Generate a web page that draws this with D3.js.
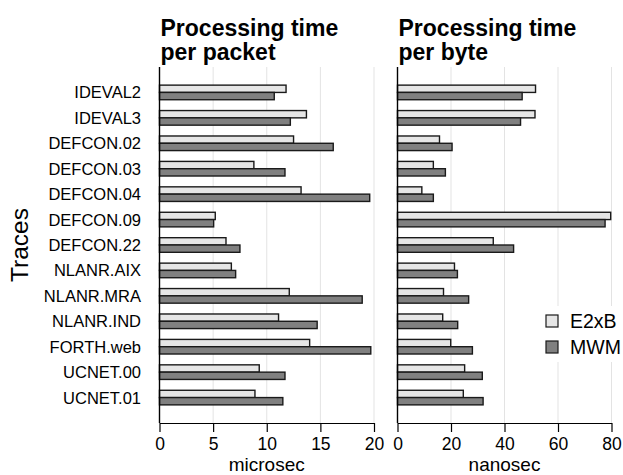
<!DOCTYPE html>
<html>
<head>
<meta charset="utf-8">
<script src="https://cdn.jsdelivr.net/npm/d3@7"></script>
<style>
  body { margin: 0; background: #fff; }
  svg { display: block; font-family: "Liberation Sans", Arial, sans-serif; }
</style>
</head>
<body>
<svg id="chart" width="623" height="475"></svg>
<script>
// traces, top to bottom
const traces = ["IDEVAL2", "IDEVAL3", "DEFCON.02", "DEFCON.03", "DEFCON.04", "DEFCON.09",
  "DEFCON.22", "NLANR.AIX", "NLANR.MRA", "NLANR.IND", "FORTH.web", "UCNET.00", "UCNET.01"];

// processing time per packet (microsec)
const packetE2xB = [11.8, 13.7, 12.5, 8.8, 13.2, 5.2, 6.2, 6.7, 12.1, 11.1, 14.0, 9.3, 8.9];
const packetMWM  = [10.7, 12.2, 16.2, 11.7, 19.6, 5.05, 7.5, 7.1, 18.9, 14.7, 19.7, 11.7, 11.5];

// processing time per byte (nanosec)
const byteE2xB = [51.6, 51.4, 15.7, 13.4, 9.1, 79.7, 35.8, 21.3, 17.2, 16.9, 19.9, 25.1, 24.6];
const byteMWM  = [46.6, 46.0, 20.4, 17.9, 13.4, 77.6, 43.4, 22.4, 26.6, 22.5, 28.0, 31.7, 32.0];

const packetTicks = [0, 5, 10, 15, 20];
const byteTicks = [0, 20, 40, 60, 80];

const seriesNames = ["E2xB", "MWM"];
const seriesColors = ["#e6e6e6", "#808080"];

const svg = d3.select("#chart");

// layout
const plotTop = 67, plotBottom = 423;
const barH = 7.3;

const y = d3.scalePoint()
    .domain(traces)
    .range([plotTop, plotBottom])
    .padding(1);

function panel(x0, x1, maxVal, ticks, e2xb, mwm, title, unit) {
  const x = d3.scaleLinear().domain([0, maxVal]).range([x0, x1]);
  const g = svg.append("g");

  // grid lines
  g.append("g")
    .selectAll("line")
    .data(ticks.slice(1))
    .join("line")
      .attr("x1", d => x(d)).attr("x2", d => x(d))
      .attr("y1", plotTop).attr("y2", plotBottom)
      .attr("stroke", "#e3e3e3")
      .attr("stroke-width", 1);

  // bars
  const rows = traces.map((t, i) => ({ t, vals: [e2xb[i], mwm[i]] }));
  const grp = g.append("g")
    .selectAll("g")
    .data(rows)
    .join("g");

  grp.selectAll("rect")
    .data(d => d.vals.map((v, k) => ({ t: d.t, v, k })))
    .join("rect")
      .attr("x", x(0))
      .attr("y", d => y(d.t) - barH + d.k * barH)
      .attr("width", d => x(d.v) - x(0))
      .attr("height", barH)
      .attr("fill", d => seriesColors[d.k])
      .attr("stroke", "#1a1a1a")
      .attr("stroke-width", 1.4);

  // bottom axis
  g.append("g")
      .attr("transform", `translate(0,${plotBottom})`)
      .call(d3.axisBottom(x).tickValues(ticks).tickSize(9).tickPadding(6).tickSizeOuter(0))
      .call(a => a.select(".domain").attr("stroke", "#000").attr("stroke-width", 1.2))
      .call(a => a.selectAll(".tick line").attr("stroke", "#000").attr("stroke-width", 1.2))
      .call(a => a.selectAll("text")
          .attr("font-family", "Liberation Sans, Arial, sans-serif")
          .attr("font-size", 17.5)
          .attr("fill", "#000"));

  // left axis line
  g.append("line")
      .attr("x1", x0).attr("x2", x0)
      .attr("y1", plotTop).attr("y2", plotBottom)
      .attr("stroke", "#000")
      .attr("stroke-width", 1.4);

  // unit label
  g.append("text")
      .attr("x", (x0 + x1) / 2)
      .attr("y", 471)
      .attr("text-anchor", "middle")
      .attr("font-size", 19)
      .text(unit);

  // title
  const tt = g.append("text")
      .attr("x", x0 + 1)
      .attr("y", 36)
      .attr("font-size", 23)
      .attr("font-weight", "bold");
  tt.append("tspan").attr("x", x0 + 1).text(title[0]);
  tt.append("tspan").attr("x", x0 + 1).attr("dy", 24).text(title[1]);
}

panel(159.5, 374, 20, packetTicks, packetE2xB, packetMWM,
  ["Processing time", "per packet"], "microsec");
panel(397.5, 611.5, 80, byteTicks, byteE2xB, byteMWM,
  ["Processing time", "per byte"], "nanosec");

// trace labels
svg.append("g")
  .selectAll("text")
  .data(traces)
  .join("text")
    .attr("x", 141)
    .attr("y", d => y(d))
    .attr("dy", "0.36em")
    .attr("text-anchor", "end")
    .attr("font-size", 16.5)
    .text(d => d);

// y title
svg.append("text")
    .attr("transform", "translate(28,245) rotate(-90)")
    .attr("text-anchor", "middle")
    .attr("font-size", 24.5)
    .text("Traces");

// legend
const legend = svg.append("g");
legend.append("rect")
    .attr("x", 540).attr("y", 306)
    .attr("width", 83).attr("height", 56)
    .attr("fill", "#fff");
const li = legend.selectAll("g")
  .data(seriesNames)
  .join("g")
    .attr("transform", (d, i) => `translate(546,${315 + i * 26})`);
li.append("rect")
    .attr("width", 12).attr("height", 12)
    .attr("fill", (d, i) => seriesColors[i])
    .attr("stroke", "#1a1a1a")
    .attr("stroke-width", 1.2);
li.append("text")
    .attr("x", 24)
    .attr("y", 12.5)
    .attr("font-size", 19.5)
    .text(d => d);
</script>
</body>
</html>
